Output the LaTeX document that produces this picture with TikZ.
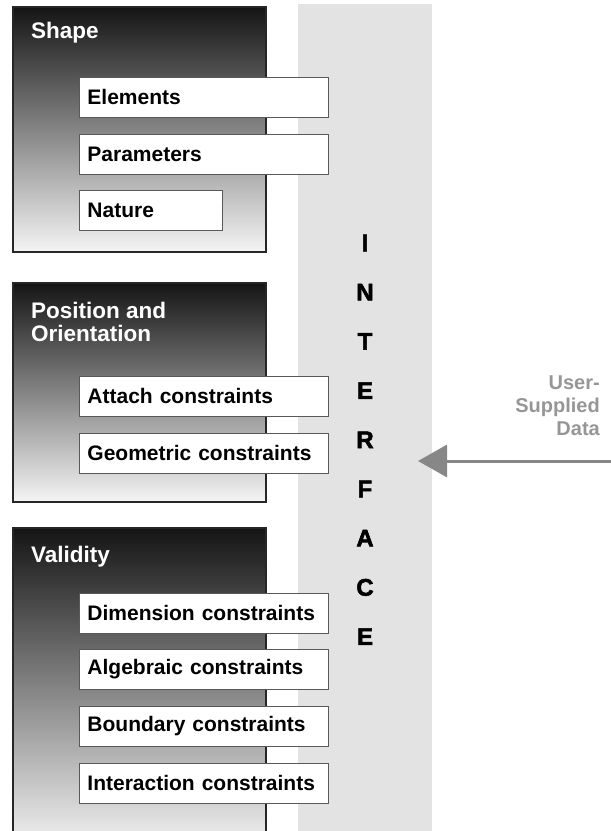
\documentclass[tikz,border=0pt]{standalone}
\usepackage{fontspec}
\setmainfont{Liberation Sans}
\newfontfamily\heavyfont{Liberation Sans}[UprightFont=*-Bold, FakeBold=2.2]
\usetikzlibrary{arrows.meta}

\definecolor{bandgray}{RGB}{227,227,227}
\definecolor{datagray}{RGB}{150,150,150}
\definecolor{arrowgray}{RGB}{135,135,135}

\tikzset{
  groupframe/.style={draw=black!85, line width=1.2pt},
  groupfill/.style={top color=black!92, bottom color=black!4},
  grouptitle/.style={anchor=west, inner sep=0pt, text=white, align=left,
    font=\fontsize{22.5}{23}\selectfont\bfseries},
  itembox/.style={draw=black!65, line width=0.9pt, fill=white, anchor=north west,
    minimum height=40pt, inner xsep=8pt, inner ysep=0pt, align=left,
    font=\fontsize{21}{24}\selectfont\bfseries},
  bandletter/.style={inner sep=0pt, font=\fontsize{24}{24}\selectfont\heavyfont},
  datalabel/.style={anchor=east, inner sep=0pt, align=right, text=datagray,
    font=\fontsize{20}{23}\selectfont\bfseries}
}

\begin{document}
\begin{tikzpicture}[x=1pt, y=-1pt]

    % Page size
    \useasboundingbox (0,0) rectangle (611,831);

    % Interface band behind everything
    \fill[bandgray] (298,4) rectangle (432,831);

    % Shape group
    \shade[groupfill] (13,7) rectangle (266,252);
    \draw[groupframe] (13,7) rectangle (266,252);
    \node[grouptitle] (shapetitle) at (31,33) {Shape};

    % Position and orientation group
    \shade[groupfill] (13,283) rectangle (266,502);
    \draw[groupframe] (13,283) rectangle (266,502);
    \node[grouptitle] (postitle) at (31,321.5) {Position and\\Orientation};

    % Validity group (runs off the bottom)
    \shade[groupfill] (13,528) rectangle (266,850);
    \draw[groupframe] (13,831) |- (266,528) -- (266,831);
    \node[grouptitle] (validtitle) at (31,557) {Validity};

    % Items of the shape group
    \node[itembox, text width=233pt] (elements) at (79,77) {Elements};
    \node[itembox, text width=233pt] (parameters) at (79,134) {Parameters};
    \node[itembox, text width=127pt] (nature) at (79,190) {Nature};

    % Items of the position group
    \node[itembox, text width=233pt] (attach) at (79,376) {Attach constraints};
    \node[itembox, text width=233pt] (geometric) at (79,433) {Geometric constraints};

    % Items of the validity group
    \node[itembox, text width=233pt] (dimension) at (79,593) {Dimension constraints};
    \node[itembox, text width=233pt] (algebraic) at (79,649) {Algebraic constraints};
    \node[itembox, text width=233pt] (boundary) at (79,706) {Boundary constraints};
    \node[itembox, text width=233pt] (interaction) at (79,763) {Interaction constraints};

    % Vertical INTERFACE lettering
    \foreach \ch [count=\i] in {I,N,T,E,R,F,A,C,E}
      \node[bandletter] (letter\i) at (365,{243+(\i-1)*49.2}) {\ch};

    % User data coming in
    \node[datalabel] (userdata) at (600,406) {User-\\Supplied\\Data};
    \coordinate (datain) at (611,461);
    \coordinate (datatip) at (418,461);
    \draw[arrowgray, line width=3pt, -{Triangle[length=29pt,width=32pt]}] (datain) -- (datatip);

\end{tikzpicture}
\end{document}
